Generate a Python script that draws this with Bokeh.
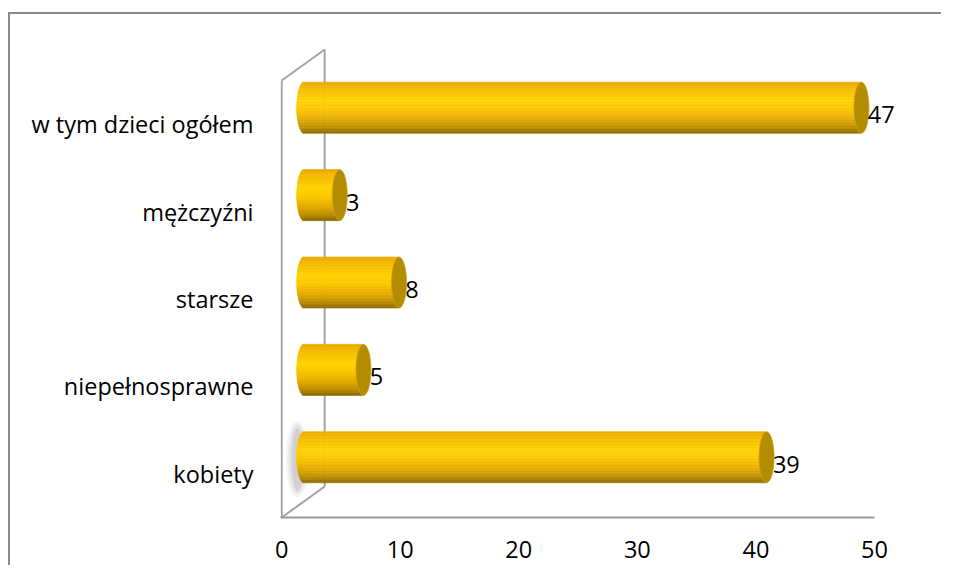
import numpy as np
from bokeh.plotting import figure
from bokeh.models import Range1d, FixedTicker, ColumnDataSource
from bokeh.core.properties import value
from bokeh.embed import file_html
from bokeh.resources import INLINE

# ---- data ----
categories = ["kobiety", "niepełnosprawne", "starsze", "mężczyźni", "w tym dzieci ogółem"]
values = [39, 5, 8, 3, 47]
x_ticks = [0, 10, 20, 30, 40, 50]

FONT = "Open Sans"
FS = "23.5px"

# ---- layout (canvas px) ----
W, H = 941, 565
FL, FT, FB = 280, 40, 517
AX50 = 874            # canvas x of value 50
FR = 920
X0 = -0.1
pxu_x = (AX50 - FL) / (50 - X0)
X1 = 50 + (FR - AX50) / pxu_x
pxu_y = 87.4
Y0 = 0.5
Y1 = Y0 + (FB - FT) / pxu_y

# depth offsets (in data units)
wall_dx, wall_dy = 43 / pxu_x, 31 / pxu_y
bar_dx, bar_dy = 22.5 / pxu_x, 16.5 / pxu_y
bar_h = 51 / pxu_y
cap_a = 7.5 / pxu_x

p = figure(width=W, height=H, output_backend="svg", toolbar_location=None,
           x_range=Range1d(X0, X1), y_range=Range1d(Y0, Y1),
           min_border_left=FL, min_border_right=W - FR,
           min_border_top=FT, min_border_bottom=H - FB)
# chart-area border (top and left edges) painted behind a transparent canvas
p.styles = {"background": "linear-gradient(#8a8a8a, #8a8a8a) 8px 12px / 100% 2px no-repeat, "
                          "linear-gradient(#8a8a8a, #8a8a8a) 8px 12px / 2px 100% no-repeat, #ffffff"}
p.outline_line_color = None
p.background_fill_color = None
p.border_fill_color = None
p.xgrid.visible = False
p.ygrid.visible = False

# walls
wall_col = "#a3a3a3"
n_cat = len(categories)
ytop = Y0 + n_cat
p.line([0, 0], [Y0, ytop], line_color=wall_col, line_width=2)
p.line([wall_dx, wall_dx], [Y0 + wall_dy, ytop + wall_dy], line_color=wall_col, line_width=2)
p.line([0, wall_dx], [Y0, Y0 + wall_dy], line_color=wall_col, line_width=2)
p.line([0, wall_dx], [ytop, ytop + wall_dy], line_color=wall_col, line_width=2)

# cylinder gradient keyframes (top -> bottom)
keys = [(0.0, (0xE8, 0xAA, 0x00)), (0.12, (0xF6, 0xBA, 0x00)), (0.38, (0xFF, 0xD3, 0x00)),
        (0.55, (0xFC, 0xC6, 0x00)), (0.75, (0xE2, 0xA8, 0x00)), (0.9, (0xB9, 0x8C, 0x00)),
        (1.0, (0x8C, 0x6A, 0x00))]

def grad(t):
    for (t0, c0), (t1, c1) in zip(keys[:-1], keys[1:]):
        if t0 <= t <= t1:
            f = (t - t0) / (t1 - t0)
            c = [int(round(a + (b - a) * f)) for a, b in zip(c0, c1)]
            return "#%02x%02x%02x" % tuple(c)
    return "#%02x%02x%02x" % keys[-1][1]

centers = np.arange(1, n_cat + 1) + bar_dy
vals = np.array(values, dtype=float)

# soft shadow at left end of the first bar
for wm, hm, al in [(3.2, 1.5, 0.07), (2.6, 1.4, 0.08), (2.0, 1.3, 0.1), (1.4, 1.2, 0.12)]:
    p.ellipse(x=[bar_dx - 0.9 * cap_a], y=[centers[0] - 0.02], width=wm * cap_a, height=hm * bar_h,
              fill_color="#707070", fill_alpha=al, line_color=None)

n = 34
sy, sl, sr, sc = [], [], [], []
for ci, v in zip(centers, vals):
    for k in range(n):
        t = (k + 0.5) / n
        hh = 2 * (0.5 - t)
        sy.append(ci + (0.5 - t) * bar_h)
        sl.append(bar_dx - cap_a * np.sqrt(max(0.0, 1 - hh * hh)))
        sr.append(v + bar_dx)
        sc.append(grad(t))
src = ColumnDataSource(dict(y=sy, left=sl, right=sr, color=sc))
p.hbar(y="y", left="left", right="right", height=bar_h / n * 1.05, source=src,
       fill_color="color", line_color="color", line_width=0.6)

# right end caps
p.ellipse(x=vals + bar_dx, y=centers, width=2 * cap_a, height=bar_h,
          fill_color="#b48c00", line_color="#c9a21a", line_width=0.8)

# value labels
p.text(x=vals + bar_dx + cap_a - 0.1, y=centers - 0.08, text=[str(v) for v in values],
       text_font=value(FONT), text_font_size=FS, text_color="#000000",
       text_align="left", text_baseline="middle")

# axes
p.xaxis.ticker = FixedTicker(ticks=x_ticks)
p.xaxis.bounds = (X0, 50)
p.xaxis.axis_line_color = "#9a9a9a"
p.xaxis.axis_line_width = 2
p.xaxis.major_tick_line_color = None
p.xaxis.minor_tick_line_color = None
p.xaxis.major_label_text_font = FONT
p.xaxis.major_label_text_font_size = FS
p.xaxis.major_label_text_color = "#000000"
p.xaxis.major_label_standoff = 17

p.yaxis.ticker = FixedTicker(ticks=list(range(1, n_cat + 1)))
p.yaxis.major_label_overrides = {i + 1: c for i, c in enumerate(categories)}
p.yaxis.axis_line_color = None
p.yaxis.major_tick_line_color = None
p.yaxis.minor_tick_line_color = None
p.yaxis.major_label_text_font = FONT
p.yaxis.major_label_text_font_size = FS
p.yaxis.major_label_text_color = "#000000"
p.yaxis.major_label_standoff = 21

open("out.html", "w").write(file_html(p, INLINE))
